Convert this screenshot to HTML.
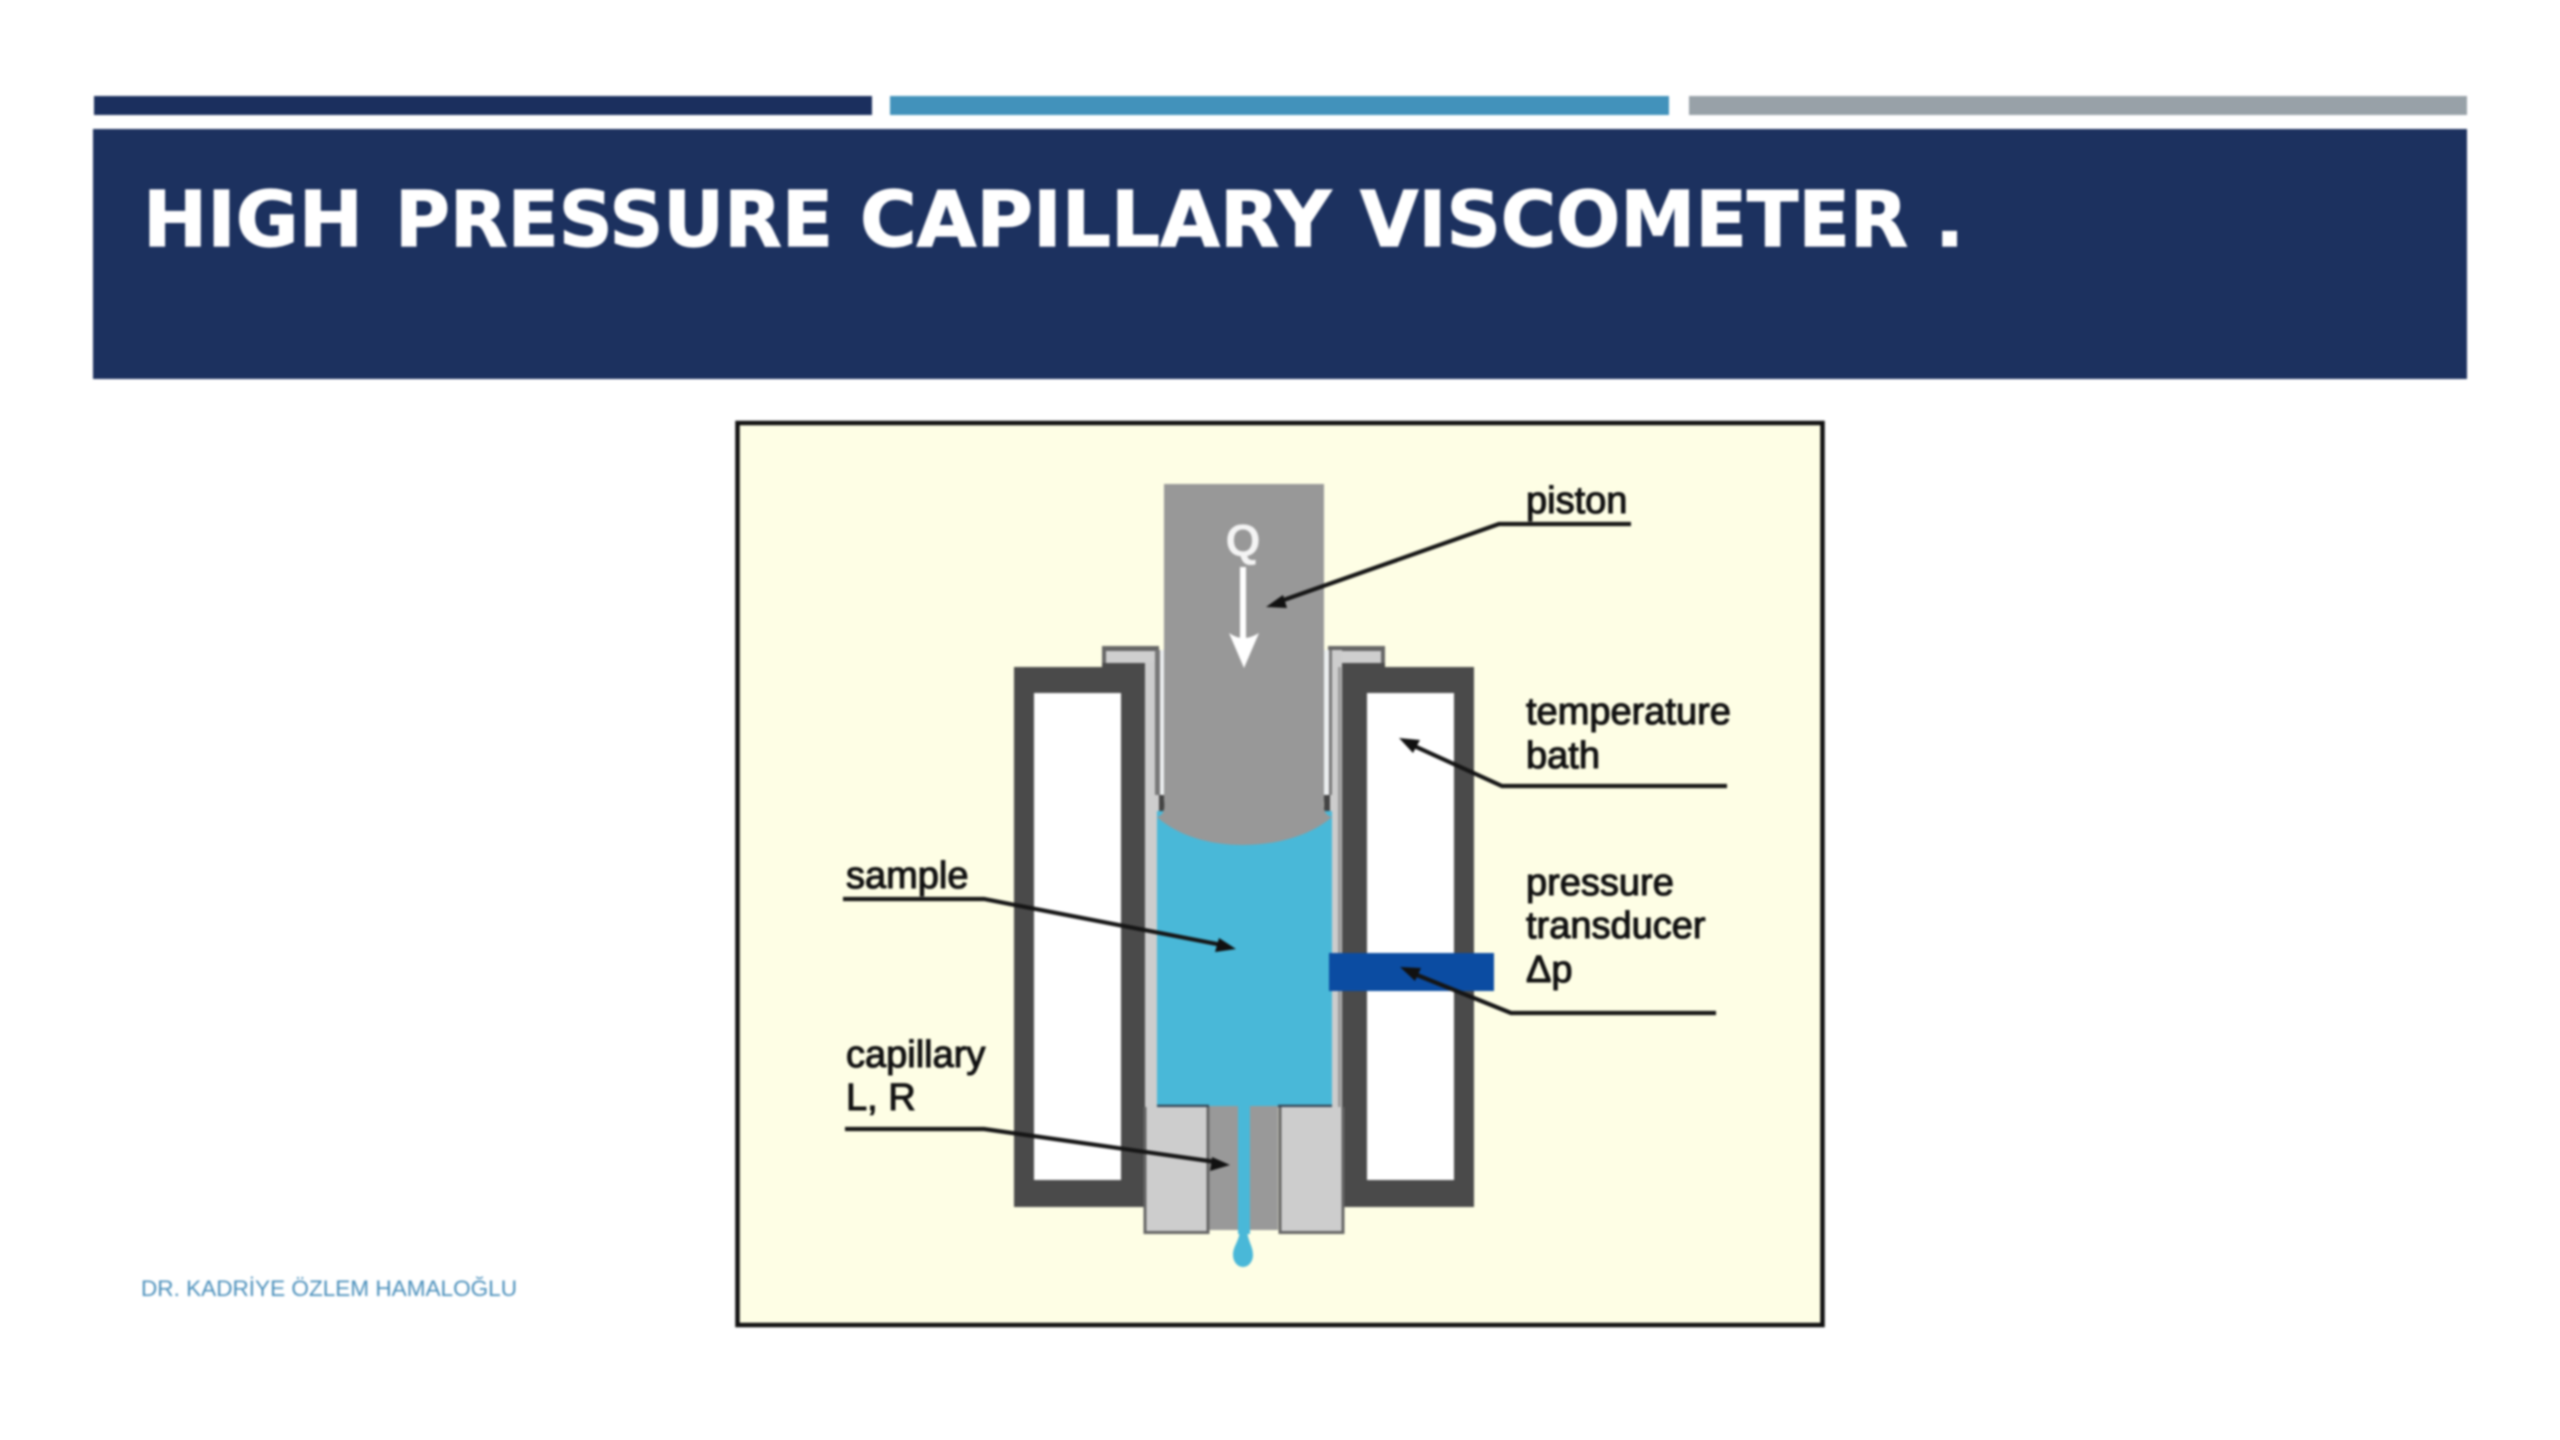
<!DOCTYPE html>
<html lang="en">
<head>
<meta charset="utf-8">
<title>High Pressure Capillary Viscometer</title>
<style>
html,body{margin:0;padding:0;width:2560px;height:1440px;background:#fff;overflow:hidden}
svg{display:block;filter:blur(1px)}
.l{font-family:"Liberation Sans",sans-serif;font-size:38px;fill:#111;stroke:#111;stroke-width:1.1px}
.t{font-family:"DejaVu Sans",sans-serif;font-weight:700;font-size:77px;fill:#fff;stroke:#fff;stroke-width:1.2px}
</style>
</head>
<body>
<svg xmlns="http://www.w3.org/2000/svg" width="2560" height="1440" viewBox="0 0 2560 1440">
<rect width="2560" height="1440" fill="#fff"/>
<!-- top bars -->
<rect x="94" y="96" width="778" height="19" fill="#1b2f5e"/>
<rect x="890" y="96" width="779" height="19" fill="#4292bb"/>
<rect x="1689" y="96" width="778" height="19" fill="#98a1a8"/>
<!-- header -->
<rect x="93" y="129" width="2374" height="250" fill="#1c315f"/>
<text class="t" x="143" y="246" textLength="220" lengthAdjust="spacingAndGlyphs">HIGH</text>
<text class="t" x="395" y="246" textLength="438" lengthAdjust="spacingAndGlyphs">PRESSURE</text>
<text class="t" x="860" y="246" textLength="471" lengthAdjust="spacingAndGlyphs">CAPILLARY</text>
<text class="t" x="1360" y="246" textLength="548" lengthAdjust="spacingAndGlyphs">VISCOMETER</text>
<text class="t" x="1935" y="246">.</text>
<!-- footer -->
<text x="141" y="1296" font-family="'Liberation Sans',sans-serif" font-size="22" fill="#4a8fbb" textLength="376" lengthAdjust="spacingAndGlyphs">DR. KADRİYE ÖZLEM HAMALOĞLU</text>
<!-- frame -->
<rect x="737.5" y="423" width="1085" height="902" fill="#fefee5" stroke="#111" stroke-width="4.5"/>

<!-- caps -->
<rect x="1102" y="646" width="57" height="30" fill="#666"/>
<rect x="1106" y="651" width="49" height="14" fill="#cfcfcf"/>
<rect x="1328" y="646" width="57" height="30" fill="#666"/>
<rect x="1332" y="651" width="49" height="14" fill="#cfcfcf"/>

<!-- jackets -->
<path d="M1014 667H1102V663H1145V1207H1014Z" fill="#4a4a4a"/>
<rect x="1034" y="693" width="87" height="487" fill="#fff"/>
<path d="M1340 663H1385V667H1474V1207H1340Z" fill="#4a4a4a"/>
<rect x="1367" y="693" width="87" height="487" fill="#fff"/>

<!-- liner -->
<rect x="1145" y="662" width="15" height="450" fill="#cdcdcd"/>
<rect x="1155" y="650" width="5" height="145" fill="#777"/>
<rect x="1160" y="650" width="6" height="150" fill="#eceff0"/>
<rect x="1328" y="650" width="14" height="462" fill="#cdcdcd"/>
<rect x="1328" y="650" width="4" height="145" fill="#777"/>
<rect x="1323" y="650" width="6" height="150" fill="#eceff0"/>
<rect x="1338" y="667" width="3" height="440" fill="#9a9a9a"/>
<rect x="1159" y="795" width="6" height="20" fill="#444"/>
<rect x="1324" y="795" width="6" height="20" fill="#444"/>

<!-- sample -->
<rect x="1157" y="811" width="175" height="295" fill="#49b8d8"/>
<path d="M1157 1106H1209M1278 1106H1332" stroke="#345" stroke-width="2.5" fill="none"/>

<!-- piston -->
<path d="M1164 484H1324V800Q1322 815 1332 817C1310 836 1276 845 1243 845C1210 845 1178 836 1157 817Q1166 815 1164 800Z" fill="#989898"/>

<!-- lower blocks -->
<rect x="1209" y="1106" width="69" height="124" fill="#999"/>
<path d="M1145 1107V1232.500H1208V1107" fill="#cdcdcd" stroke="#666" stroke-width="3"/>
<path d="M1280 1107V1232.500H1343V1107" fill="#cdcdcd" stroke="#666" stroke-width="3"/>

<!-- capillary and drop -->
<rect x="1238" y="1100" width="12" height="134" fill="#49b8d8"/>
<path d="M1240 1230H1247C1248 1242 1253 1246 1253 1255A10 12 0 0 1 1233 1255C1233 1246 1239 1242 1240 1230Z" fill="#49b8d8"/>

<!-- transducer -->
<rect x="1329" y="953" width="165" height="38" fill="#0b4ca2"/>

<!-- Q arrow -->
<text x="1243" y="556" font-family="'Liberation Sans',sans-serif" font-size="45" font-weight="700" fill="#f4f4f4" text-anchor="middle">Q</text>
<rect x="1240" y="567" width="6" height="72" fill="#fff"/>
<path d="M1229 633Q1243 643 1259 633L1244 668Z" fill="#fff"/>

<!-- leaders -->
<g fill="none" stroke="#151515" stroke-width="4.2">
<path d="M1631 524H1499L1278 602"/>
<path d="M1727 786H1502L1412 745"/>
<path d="M843 899H984L1222 945"/>
<path d="M1716 1013H1511L1412 973"/>
<path d="M845 1129H984L1216 1162"/>
</g>
<g fill="#111">
<path d="M1266 607L1283 595L1287 608Z"/>
<path d="M1399 738L1420 740L1413 753Z"/>
<path d="M1236 949L1215 952L1219 938Z"/>
<path d="M1400 967L1421 968L1415 981Z"/>
<path d="M1230 1165L1210 1171L1212 1157Z"/>
</g>

<!-- labels -->
<text class="l" x="1526" y="513">piston</text>
<text class="l" x="1526" y="724">temperature</text>
<text class="l" x="1526" y="768">bath</text>
<text class="l" x="846" y="888">sample</text>
<text class="l" x="1526" y="895">pressure</text>
<text class="l" x="1526" y="938">transducer</text>
<text class="l" x="1526" y="982">Δp</text>
<text class="l" x="846" y="1067">capillary</text>
<text class="l" x="846" y="1110">L, R</text>
</svg>
</body>
</html>
